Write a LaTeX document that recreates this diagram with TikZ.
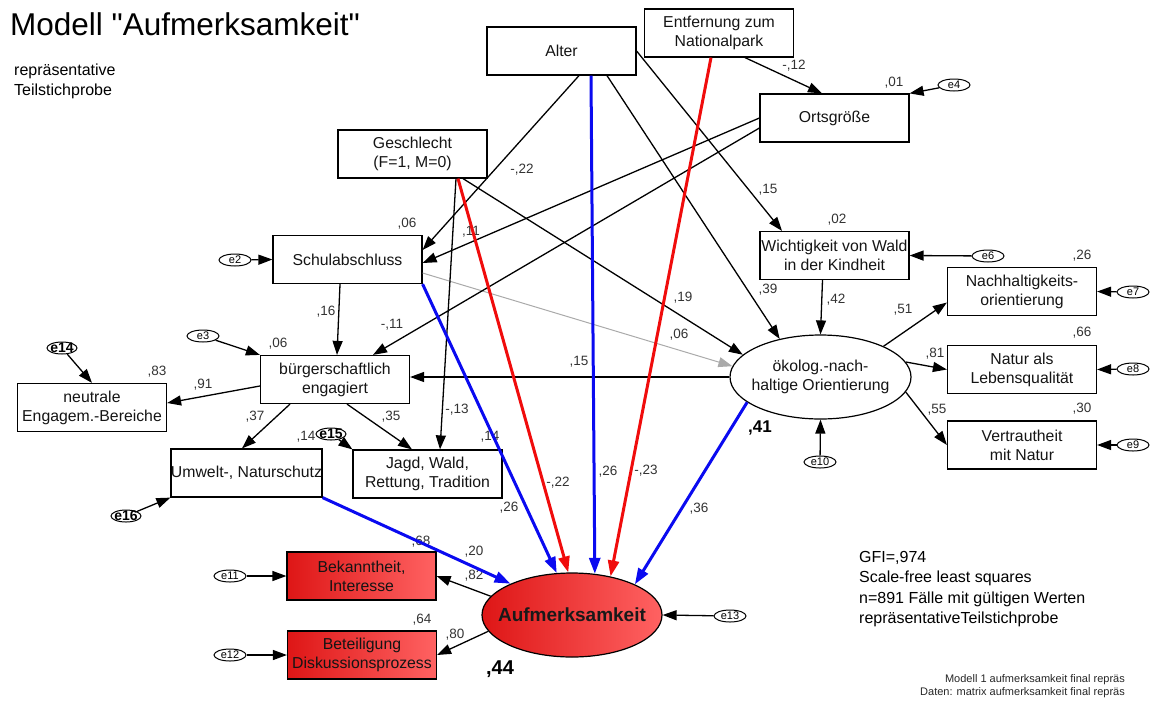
\documentclass[tikz,border=0pt]{standalone}
\usepackage{fontspec}
\setmainfont{Liberation Sans}[Ligatures=TeXOff]
\usetikzlibrary{shapes.geometric, arrows.meta, calc, positioning}

\newcommand{\boxfont}{\fontsize{15.8}{19}\selectfont}
\newcommand{\coeffont}{\fontsize{13.5}{15}\selectfont}
\newcommand{\errfont}{\fontsize{11}{11}\selectfont}

\definecolor{auflinks}{RGB}{222,22,22}
\definecolor{aufrechts}{RGB}{255,98,98}
\definecolor{pfadblau}{RGB}{10,10,240}
\definecolor{pfadrot}{RGB}{240,12,12}
\definecolor{pfadgrau}{RGB}{170,170,170}

\begin{document}
\begin{tikzpicture}[x=1pt,y=-1pt]
\tikzset{
  obs/.style={draw, rectangle, line width=1.2pt, minimum width=149pt, minimum height=48pt, inner sep=0pt, align=center, font=\boxfont, text=black!92},
  latent/.style={draw, ellipse, line width=1.2pt, minimum width=181pt, minimum height=84pt, inner sep=0pt},
  err/.style={draw, ellipse, line width=1pt, minimum width=32pt, minimum height=12pt, inner sep=0pt, font=\errfont},
  errbig/.style={draw, ellipse, line width=1pt, minimum width=30pt, minimum height=12pt, inner sep=0pt},
  coef/.style={font=\coeffont, text=black!80, inner sep=0pt},
  rotfill/.style={left color=auflinks, right color=aufrechts},
  pth/.style={->, line width=1.3pt},
  gpth/.style={->, line width=1pt, draw=pfadgrau},
  bpth/.style={->, >={Triangle[length=16pt,width=11pt]}, line width=3pt, draw=pfadblau},
  rpth/.style={->, >={Triangle[length=16pt,width=11pt]}, line width=3pt, draw=pfadrot},
}
\tikzset{>={Triangle[length=14pt,width=10pt]}}
\useasboundingbox (0,0) rectangle (1150,702);

% Titel und Hinweise
\node[anchor=base west, inner sep=0pt, font=\fontsize{31.5}{36}\selectfont] (titel) at (10,35) {Modell "Aufmerksamkeit"};
\node[anchor=north west, inner sep=0pt, align=left, font=\fontsize{16}{20}\selectfont] (teil) at (14,64) {repräsentative\\Teilstichprobe};
\node[anchor=north west, inner sep=0pt, align=left, font=\fontsize{16}{20.5}\selectfont] (gfi) at (859,551) {GFI=,974\\Scale-free least squares\\n=891 Fälle mit gültigen Werten\\repräsentativeTeilstichprobe};
\node[anchor=north east, inner sep=0pt, align=right, font=\fontsize{11}{13}\selectfont, text=black!85] (daten) at (1125,674) {Modell 1 aufmerksamkeit final repräs\\Daten: matrix aufmerksamkeit final repräs};

% Variablen
\node[obs] (alter) at (561.5,51) {Alter};
\node[obs] (entf) at (719,33) {Entfernung zum\\Nationalpark};
\node[obs] (orts) at (834.5,118) {Ortsgröße};
\node[obs] (gesch) at (412.5,154) {Geschlecht\\(F=1, M=0)};
\node[obs] (schul) at (347.5,259.5) {Schulabschluss};
\node[obs] (wicht) at (834.5,255.5) {Wichtigkeit von Wald\\in der Kindheit};
\node[obs] (nachh) at (1022,291.5) {Nachhaltigkeits-\\orientierung};
\node[obs] (natur) at (1022,369.5) {Natur als\\Lebensqualität};
\node[obs] (vertr) at (1022,445) {Vertrautheit\\mit Natur};
\node[latent, label={[align=center, font=\boxfont, text=black!92]center:ökolog.-nach-\\haltige Orientierung}] (oek) at (820.5,377) {};
\node[obs] (buerg) at (335,379.5) {bürgerschaftlich\\engagiert};
\node[obs] (neutr) at (92,407.5) {neutrale\\Engagem.-Bereiche};
\node[obs] (umwelt) at (246.5,473) {Umwelt-, Naturschutz};
\node[obs] (jagd) at (427.5,474) {Jagd, Wald,\\Rettung, Tradition};
\node[obs, rotfill] (bekannt) at (361.5,576) {Bekanntheit,\\Interesse};
\node[obs, rotfill] (beteil) at (362,655) {Beteiligung\\Diskussionsprozess};
\node[latent, rotfill, minimum width=180pt, label={[font=\bfseries\fontsize{19}{21}\selectfont, text=black!90]center:Aufmerksamkeit}] (aufm) at (572,615) {};

% Fehlerterme
\node[err] (e2) at (235,260) {e2};
\node[err] (e3) at (203,336) {e3};
\node[err] (e4) at (954,85) {e4};
\node[err] (e6) at (988,256) {e6};
\node[err] (e7) at (1133,292) {e7};
\node[err] (e8) at (1133,369) {e8};
\node[err] (e9) at (1133,445) {e9};
\node[err] (e10) at (820,462) {e10};
\node[err] (e11) at (230,576) {e11};
\node[err] (e12) at (230,655) {e12};
\node[err] (e13) at (730,616) {e13};
\node[errbig, label={[font=\bfseries\fontsize{14}{14}\selectfont, inner sep=0pt]center:e14}] (e14) at (62,348) {};
\node[errbig, label={[font=\bfseries\fontsize{14}{14}\selectfont, inner sep=0pt]center:e15}] (e15) at (331,434) {};
\node[errbig, label={[font=\bfseries\fontsize{14}{14}\selectfont, inner sep=0pt]center:e16}] (e16) at (126,516) {};

% Koeffizienten
\node[coef] (cOrts) at (894,83) {,01};
\node[coef] (cEntfOrts) at (794,66) {-,12};
\node[coef] (cAlterWicht) at (768,190) {,15};
\node[coef] (cWicht) at (837,220) {,02};
\node[coef] (cNachh) at (1082,256) {,26};
\node[coef] (cAlterOek) at (768,290) {,39};
\node[coef] (cWichtOek) at (836,300) {,42};
\node[coef] (cOekNachh) at (903,310) {,51};
\node[coef] (cNatur) at (1082,333) {,66};
\node[coef] (cOekNatur) at (935,354) {,81};
\node[coef] (cVertr) at (1082,409) {,30};
\node[coef] (cOekVertr) at (937,410) {,55};
\node[coef, font=\bfseries\fontsize{17}{17}\selectfont, text=black] (cOek) at (760,428) {,41};
\node[coef] (cAlterSchul) at (522,170) {-,22};
\node[coef] (cSchul) at (407,224) {,06};
\node[coef] (cGesch) at (471,232) {,11};
\node[coef] (cSchulBuerg) at (326,312) {,16};
\node[coef] (cOrtsBuerg) at (392,325) {-,11};
\node[coef] (cBuerg) at (278,344) {,06};
\node[coef] (cNeutr) at (157,372) {,83};
\node[coef] (cBuergNeutr) at (203,385) {,91};
\node[coef] (cBuergUmw) at (255,417) {,37};
\node[coef] (cBuergJagd) at (391,417) {,35};
\node[coef] (cGeschJagd) at (457,410) {-,13};
\node[coef] (cUmw) at (306,437) {,14};
\node[coef] (cJagd) at (490,437) {,14};
\node[coef] (cGeschOek) at (683,298) {,19};
\node[coef] (cSchulOek) at (679,335) {,06};
\node[coef] (cOekBuerg) at (579,362) {,15};
\node[coef] (cAlterAufm) at (608,472) {,26};
\node[coef] (cEntfAufm) at (646,471) {-,23};
\node[coef] (cGeschAufm) at (558,483) {-,22};
\node[coef] (cSchulAufm) at (509,508) {,26};
\node[coef] (cOekAufm) at (699,509) {,36};
\node[coef] (cBekannt) at (421,542) {,68};
\node[coef] (cUmwAufm) at (474,552) {,20};
\node[coef] (cAufmBek) at (474,576) {,82};
\node[coef] (cBeteil) at (422,620) {,64};
\node[coef] (cAufmBet) at (455,635) {,80};
\node[coef, font=\bfseries\fontsize{20}{20}\selectfont, text=black] (cAufm) at (500,669) {,44};

% Fehlerpfeile
\draw[pth] (e2) -- (schul.west);
\draw[pth] (e3) -- (buerg.north west);
\draw[pth] (e4) -- (orts.north east);
\draw[pth] (e6) -- (wicht.east);
\draw[pth] (e7) -- (nachh.east);
\draw[pth] (e8) -- (natur.east);
\draw[pth] (e9) -- (vertr.east);
\draw[pth] (e10) -- (oek.south);
\draw[pth] (e11) -- (bekannt.west);
\draw[pth] (e12) -- (beteil.west);
\draw[pth] (e13) -- (aufm.east);
\draw[pth] (e14) -- (neutr.north);
\draw[pth] (e15) -- (jagd.north west);
\draw[pth] (e16) -- (umwelt.south west);

% Pfade
\draw[gpth] ([yshift=-13.5]schul.east) -- (oek.173);
\draw[pth] ([xshift=17.5]alter.south) -- ([yshift=9.5]schul.east);
\draw[pth] (alter.east) -- ([xshift=-52.5]wicht.north);
\draw[pth] ([xshift=45.5]alter.south) -- (oek.137);
\draw[pth] ([xshift=26]entf.south) -- ([xshift=-12.5]orts.north);
\draw[pth] (orts.west) -- ([yshift=-3.5]schul.east);
\draw[pth] ([yshift=-10]orts.west) -- ([xshift=38]buerg.north);
\draw[pth] ([xshift=43.5]gesch.south) -- ([xshift=12.5]jagd.north);
\draw[pth] ([xshift=50.5]gesch.south) -- (oek.164);
\draw[pth] ([xshift=-7.5]schul.south) -- ([xshift=2]buerg.north);
\draw[pth] ([xshift=-12]wicht.south) -- (oek.north);
\draw[pth] (oek.west) -- (oek.west -| buerg.east);
\draw[pth] (oek.26) -- ([yshift=-11]nachh.west);
\draw[pth] (oek.10) -- (natur.west);
\draw[pth] (oek.-10) -- (vertr.west);
\draw[pth] ([yshift=-6.5]buerg.west) -- ([yshift=4.5]neutr.east);
\draw[pth] ([xshift=-45]buerg.south) -- ([xshift=-4.5]umwelt.north);
\draw[pth] ([xshift=12]buerg.south) -- ([xshift=-15.5]jagd.north);
\draw[pth] (aufm.167) -- (bekannt.east);
\draw[pth] (aufm.-169) -- (beteil.east);

\draw[bpth] (schul.south east) -- (aufm.110);
\draw[rpth] ([xshift=45.5]gesch.south) -- (aufm.95);
\draw[bpth] ([xshift=29.5]alter.south) -- (aufm.61);
\draw[rpth] ([xshift=-8]entf.south) -- (aufm.45);
\draw[bpth] (oek.-161) -- (aufm.26);
\draw[bpth] (umwelt.south east) -- (aufm.153);

\end{tikzpicture}
\end{document}
